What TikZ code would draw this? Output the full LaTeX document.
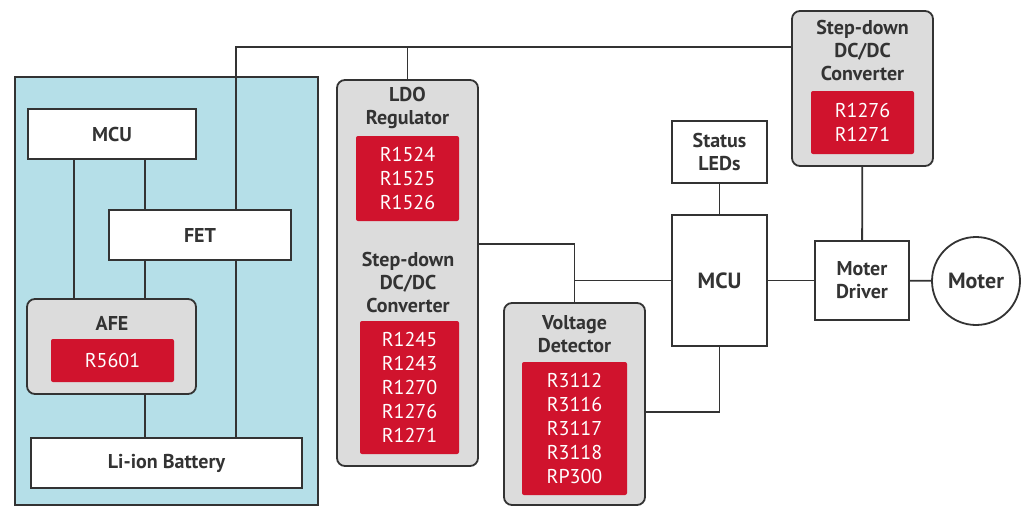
\documentclass[tikz,border=0pt]{standalone}
\usepackage{fontspec}
\setmainfont{PT Sans}
\usetikzlibrary{positioning}
\definecolor{linegray}{HTML}{333333}
\definecolor{textgray}{HTML}{333333}
\definecolor{boxgray}{HTML}{DCDCDC}
\definecolor{partred}{HTML}{D0132D}
\definecolor{packblue}{HTML}{B5DFE8}
\tikzset{
    %Define style for plain boxes
    block/.style={
           rectangle,
           draw=linegray, line width=1.8pt,
           fill=white,
           inner sep=0pt,
           align=center,
           text=textgray,
           font=\fontsize{20}{23}\selectfont\bfseries},
    %Define style for grey groups
    group/.style={
           rectangle,
           rounded corners=8pt,
           draw=linegray, line width=1.8pt,
           fill=boxgray,
           inner sep=0pt},
    %Define style for red part lists
    part/.style={
           rectangle,
           rounded corners=2pt,
           fill=partred,
           inner sep=0pt,
           align=center,
           text=white,
           font=\fontsize{20}{24}\selectfont},
    title/.style={
           align=center,
           text=textgray,
           inner sep=0pt,
           font=\fontsize{20}{23}\selectfont\bfseries},
    big/.style={
           font=\fontsize{22}{25}\selectfont\bfseries},
    % Define wire style
    wire/.style={
           draw=linegray,
           line width=1.8pt}
}
\begin{document}
\begin{tikzpicture}[x=1pt, y=-1pt]
 \useasboundingbox (0,0) rectangle (1024,512);
 %battery pack
    \node[draw=linegray, line width=1.8pt, fill=packblue, minimum width=303pt, minimum height=428pt] (pack) at (166.5,291) {};
    \node[block, minimum width=168pt, minimum height=50pt] (mcuA) at (112,134) {MCU};
    \node[block, minimum width=182pt, minimum height=50pt] (fet) at (200,235) {FET};
    \node[group, minimum width=169pt, minimum height=95pt] (afe) at (111.5,346.5) {};
    \node[title] (afeT) at (112,323) {AFE};
    \node[part, minimum width=123pt, minimum height=43pt] (afeP) at (112.5,360.5) {R5601};
    \node[block, minimum width=271pt, minimum height=50pt] (bat) at (166.5,463) {Li-ion Battery};
 %power parts
    \node[group, minimum width=141pt, minimum height=386pt] (ldo) at (407.5,273) {};
    \node[title] (ldoT) at (407.5,107.5) {LDO\\Regulator};
    \node[part, minimum width=103pt, minimum height=85pt] (ldoP) at (407.5,178.5) {R1524\\R1525\\R1526};
    \node[title] (sdAT) at (408,282) {Step-down\\DC/DC\\Converter};
    \node[part, minimum width=99pt, minimum height=133pt] (sdAP) at (409.5,387.5) {R1245\\R1243\\R1270\\R1276\\R1271};
    \node[group, minimum width=141pt, minimum height=202pt] (vd) at (574.5,404) {};
    \node[title] (vdT) at (574.5,334.5) {Voltage\\Detector};
    \node[part, minimum width=105pt, minimum height=133pt] (vdP) at (574.5,428.5) {R3112\\R3116\\R3117\\R3118\\RP300};
    \node[group, minimum width=141pt, minimum height=155pt] (sdB) at (862.5,88.5) {};
    \node[title] (sdBT) at (862.5,50.5) {Step-down\\DC/DC\\Converter};
    \node[part, minimum width=103pt, minimum height=63pt] (sdBP) at (862.5,122.5) {R1276\\R1271};
 %control side
    \node[block, minimum width=95pt, minimum height=62pt] (led) at (719.5,152) {Status\\LEDs};
    \node[block, big, minimum width=95pt, minimum height=131pt] (mcuB) at (719.5,280.5) {MCU};
    \node[block, minimum width=94pt, minimum height=79pt] (drv) at (862,280.5) {Moter\\Driver};
    \node[block, big, circle, minimum size=88pt] (motor) at (976,281) {Moter};
 %helpers
    \coordinate (xa) at (74,0);
    \coordinate (xb) at (145,0);
    \coordinate (xc) at (236,0);
    \coordinate (bus) at (792,47);
 %edges
    \draw[wire] (mcuA.south -| xa) -- (afe.north -| xa);
    \draw[wire] (mcuA.south -| xb) -- (fet.north -| xb);
    \draw[wire] (fet.south -| xb) -- (afe.north -| xb);
    \draw[wire] (afe.south -| xb) -- (bat.north -| xb);
    \draw[wire] (fet.north -| xc) |- (bus);
    \draw[wire] (fet.south -| xc) -- (bat.north -| xc);
    \draw[wire] (ldo.north) -- (ldo.north |- bus);
    \draw[wire] (ldo.east |- 0,244) -| (vd.north);
    \draw[wire] (vd.north |- mcuB.west) -- (mcuB.west);
    \draw[wire] (vd.east |- 0,412) -| (mcuB.south);
    \draw[wire] (led) -- (mcuB);
    \draw[wire] (mcuB) -- (drv);
    \draw[wire] (sdB) -- (drv);
    \draw[wire] (drv) -- (motor);
  \end{tikzpicture}
\end{document}
